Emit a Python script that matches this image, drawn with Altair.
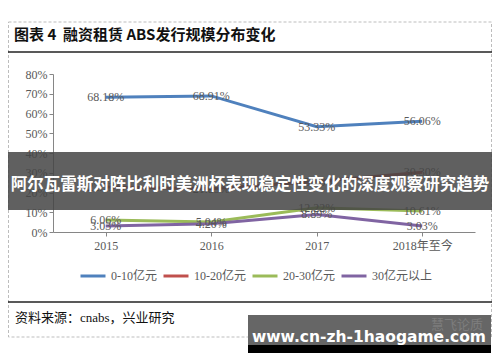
import altair as alt
import pandas as pd

categories = ["2015", "2016", "2017", "2018年至今"]
series_names = ["0-10亿元", "10-20亿元", "20-30亿元", "30亿元以上"]
s_0_10 = [68.18, 68.91, 53.33, 56.06]
s_10_20 = [22.73, 21.85, 25.56, 30.30]
s_20_30 = [6.06, 5.04, 12.22, 10.61]
s_30_up = [3.03, 4.20, 8.89, 3.03]
colors = ["#4F81BD", "#C0504D", "#9BBB59", "#8064A2"]

title_text = "图表\u00a04\u00a0\u00a0融资租赁\u00a0ABS发行规模分布变化"
source_text = "资料来源：cnabs，兴业研究"
banner_text = "阿尔瓦雷斯对阵比利时美洲杯表现稳定性变化的深度观察研究趋势"
wm_text = "www.cn-zh-1haogame.com"
wm_faint = "慧飞论质"

rows = []
for name, vals in zip(series_names, [s_0_10, s_10_20, s_20_30, s_30_up]):
    for c, v in zip(categories, vals):
        rows.append({"cat": c, "series": name, "value": v})
df = pd.DataFrame(rows)

SERIF = "Liberation Serif, Noto Sans CJK SC"
GRAY = "#595959"

base = alt.Chart(df).encode(
    x=alt.X("cat:N", sort=categories, scale=alt.Scale(type="point", padding=0.5),
            axis=alt.Axis(title=None, labelAngle=0, labelFont=SERIF, labelFontSize=12,
                          labelColor=GRAY, domainColor="#868686", tickColor="#868686",
                          tickSize=4, labelPadding=4, grid=False)),
    y=alt.Y("value:Q", scale=alt.Scale(domain=[0, 80], nice=False),
            axis=alt.Axis(title=None, values=[0, 10, 20, 30, 40, 50, 60, 70, 80],
                          labelExpr="datum.value + '%'", labelFont=SERIF, labelFontSize=12,
                          labelColor=GRAY, domainColor="#868686", tickColor="#868686",
                          tickSize=4, labelPadding=2, grid=False)),
)

lines = base.mark_line(strokeWidth=3).encode(
    color=alt.Color("series:N", sort=series_names,
                    scale=alt.Scale(domain=series_names, range=colors),
                    legend=alt.Legend(title=None, orient="none", legendX=26, legendY=188,
                                      direction="horizontal", symbolType="stroke",
                                      symbolSize=625, symbolStrokeWidth=3,
                                      labelFont=SERIF, labelFontSize=12, labelColor=GRAY,
                                      labelOffset=4, columnPadding=0, padding=0))
)

labels = base.transform_calculate(
    lab="format(datum.value, '.2f') + '%'"
).mark_text(font=SERIF, fontSize=12, color=GRAY).encode(text="lab:N")

one = pd.DataFrame({"t": [""]})

border = alt.Chart(one).mark_rect(filled=False, stroke="#bdbdbd", strokeDash=[3, 2],
                                  strokeWidth=1).encode(
    x=alt.value(-44.5), x2=alt.value(438.5), y=alt.value(-52), y2=alt.value(263))

title_line = alt.Chart(one).mark_rule(color="#222", strokeWidth=1.5).encode(
    x=alt.value(-45), x2=alt.value(439), y=alt.value(-22))
source_line = alt.Chart(one).mark_rule(color="#222", strokeWidth=1.5).encode(
    x=alt.value(-45), x2=alt.value(439), y=alt.value(228))

title = alt.Chart(pd.DataFrame({"t": [title_text]})).mark_text(
    align="left", baseline="middle", font="Noto Sans CJK SC", fontSize=15,
    fontWeight="bold", color="#111").encode(
    text="t:N", x=alt.value(-39), y=alt.value(-39))

source = alt.Chart(pd.DataFrame({"t": [source_text]})).mark_text(
    align="left", baseline="middle", font=SERIF, fontSize=13, color="#111").encode(
    text="t:N", x=alt.value(-38), y=alt.value(244))

banner = alt.Chart(one).mark_rect(color="#444444", opacity=0.85).encode(
    x=alt.value(-45), x2=alt.value(439), y=alt.value(78), y2=alt.value(136))
banner_t = alt.Chart(pd.DataFrame({"t": [banner_text]})).mark_text(
    align="center", baseline="middle", font="Noto Sans CJK SC", fontSize=16.5,
    fontWeight="bold", color="white").encode(
    text="t:N", x=alt.value(197), y=alt.value(111))

wm_box = alt.Chart(one).mark_rect(color="#666666").encode(
    x=alt.value(195), x2=alt.value(438), y=alt.value(241), y2=alt.value(271))
wm_strip = alt.Chart(one).mark_rect(color="#000000").encode(
    x=alt.value(195), x2=alt.value(438), y=alt.value(271), y2=alt.value(279))
wm_faint_t = alt.Chart(pd.DataFrame({"t": [wm_faint]})).mark_text(
    align="center", baseline="middle", font="Noto Sans CJK SC", fontSize=13,
    color="#7d7d7d").encode(text="t:N", x=alt.value(404), y=alt.value(251))
wm_t = alt.Chart(pd.DataFrame({"t": [wm_text]})).mark_text(
    align="center", baseline="middle", font="DejaVu Sans", fontSize=15.5,
    fontWeight="bold", color="white").encode(
    text="t:N", x=alt.value(316), y=alt.value(263))

chart = alt.layer(
    border, title_line, source_line, title, source,
    lines, labels,
    banner, banner_t, wm_box, wm_strip, wm_faint_t, wm_t,
).properties(
    width=422, height=158,
    autosize=alt.AutoSizeParams(type="none"),
    padding={"left": 45, "top": 66, "right": 17, "bottom": 122},
    background="white",
).configure_view(stroke=None)

chart.save("out.html", embed_options={"renderer": "svg", "actions": False})
